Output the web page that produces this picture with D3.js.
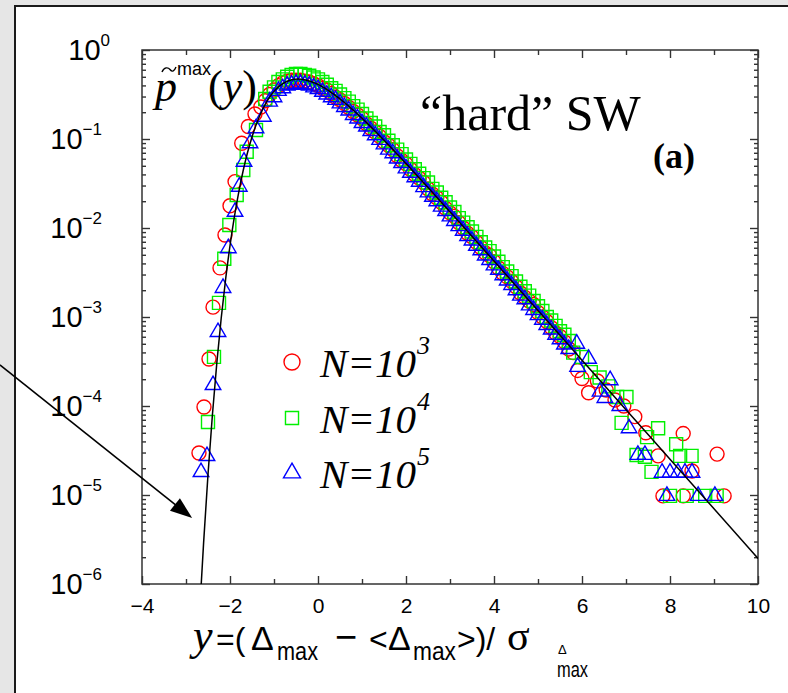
<!DOCTYPE html>
<html><head><meta charset="utf-8">
<script src="https://cdn.jsdelivr.net/npm/d3@7"></script>
<style>
body{margin:0;background:#e6e6e6;}
svg{display:block;}
</style>
</head><body>
<svg id="chart" width="788" height="693"></svg>
<script>
// ---------- data ----------
const xTickValues = [-4, -2, 0, 2, 4, 6, 8, 10];
const xMinorTicks = [-3, -1, 1, 3, 5, 7, 9];
const yExponents = [0, -1, -2, -3, -4, -5, -6];
const legendLabels = ["3", "4", "5"];   // N = 10^k

// theoretical curve (black line)
const curveX = [-2.66, -2.6, -2.5, -2.4, -2.3, -2.2, -2.1, -2.0, -1.9, -1.8, -1.7, -1.6, -1.5, -1.4, -1.3, -1.2, -1.1, -1.0, -0.9, -0.8, -0.6, -0.45, -0.3, 0, 0.3, 0.6, 1.0, 1.5, 2.0, 2.5, 3, 4, 5, 6, 7, 8, 9, 10];
const curveP = [8.85e-7, 2.90e-6, 1.70e-5, 7.93e-5, 3.03e-4, 9.67e-4, 2.65e-3, 6.32e-3, 1.34e-2, 2.55e-2, 4.43e-2, 7.09e-2, 0.1055, 0.1475, 0.1949, 0.2452, 0.2955, 0.3429, 0.3847, 0.4195, 0.4627, 0.4718, 0.4637, 0.4108, 0.3345, 0.2572, 0.1709, 0.0969, 0.0530, 0.0285, 0.01518, 4.245e-3, 1.180e-3, 3.275e-4, 9.09e-5, 2.52e-5, 6.99e-6, 1.94e-6];

// N = 10^3 (red circles)
const n3X = [-2.705, -2.591, -2.477, -2.386, -2.227, -2.114, -2.0, -1.886, -1.734, -1.584, -1.432,
  -1.3, -1.1, -0.9, -0.7, -0.5, -0.3, -0.1, 0.1, 0.3, 0.5, 0.7, 0.9, 1.1, 1.3, 1.5, 1.7, 1.9, 2.1, 2.3, 2.5, 2.7, 2.9,
  3.1, 3.3, 3.5, 3.7, 3.9, 4.1, 4.3, 4.5, 4.7, 4.9, 5.1, 5.3, 5.5, 5.7, 5.9, 6.0, 6.15, 6.35, 6.55, 6.75, 6.95,
  7.2, 7.45, 7.73, 8.3, 8.5, 9.07, 7.84, 8.3, 9.23,
  -1.2, -1.0, -0.8, -0.6, -0.4, -0.2, 0.0, 0.2, 0.4, 0.6, 0.8, 1.0, 1.2, 1.4, 1.6, 1.8, 2.0, 2.2, 2.4, 2.6, 2.8,
  3.0, 3.2, 3.4, 3.6, 3.8, 4.0, 4.2, 4.4, 4.6, 4.8, 5.0, 5.2, 5.4, 5.6, 5.8];
const n3P = [2.96e-5, 9.75e-5, 3.37e-4, 1.29e-3, 3.56e-3, 8.34e-3, 1.78e-2, 3.32e-2, 8.95e-2, 0.138, 0.191,
  0.229, 0.316, 0.398, 0.447, 0.457, 0.447, 0.417, 0.372, 0.324, 0.275, 0.226, 0.186, 0.148, 0.120, 0.0933, 0.0759, 0.0575, 0.0457, 0.0363, 0.0275, 0.0219, 0.0166,
  0.0135, 0.0100, 7.94e-3, 6.03e-3, 4.90e-3, 3.55e-3, 2.82e-3, 2.19e-3, 1.66e-3, 1.38e-3, 1.00e-3, 7.59e-4, 6.03e-4, 4.37e-4, 2.51e-4, 2.04e-4, 1.41e-4, 1.91e-4, 1.51e-4, 1.17e-4, 1.00e-4,
  7.59e-5, 5.01e-5, 2.75e-5, 4.90e-5, 1.86e-5, 2.88e-5, 9.77e-6, 9.77e-6, 9.77e-6,
  0.269, 0.355, 0.427, 0.457, 0.457, 0.437, 0.398, 0.355, 0.295, 0.251, 0.204, 0.170, 0.132, 0.107, 0.0851, 0.0646, 0.0525, 0.0398, 0.0324, 0.0240, 0.0195,
  0.0148, 0.0115, 8.71e-3, 6.92e-3, 5.25e-3, 4.17e-3, 3.09e-3, 2.51e-3, 1.86e-3, 1.51e-3, 1.12e-3, 8.91e-4, 6.61e-4, 5.25e-4, 3.98e-4];

// N = 10^4 (green squares)
const n4X = [-2.5, -2.364, -2.25, -2.13, -2.015, -1.848, -1.698, -1.621, -1.409,
  -1.2, -1.0, -0.8, -0.6, -0.4, -0.2, 0.0, 0.2, 0.4, 0.6, 0.8, 1.0, 1.2, 1.4, 1.6, 1.8, 2.0, 2.2, 2.4, 2.6, 2.8,
  3.0, 3.2, 3.4, 3.6, 3.8, 4.0, 4.2, 4.4, 4.6, 4.8, 5.0, 5.2, 5.4, 5.6, 5.8, 6.0, 6.2, 6.4, 6.6, 6.8,
  7.01, 6.9, 7.24, 7.43, 7.48, 7.58, 7.73, 8.14, 8.23, 8.49, 8.0, 8.38, 8.8, 9.06,
  -1.1, -0.9, -0.7, -0.5, -0.3, -0.1, 0.1, 0.3, 0.5, 0.7, 0.9, 1.1, 1.3, 1.5, 1.7, 1.9, 2.1, 2.3, 2.5, 2.7, 2.9,
  3.1, 3.3, 3.5, 3.7, 3.9, 4.1, 4.3, 4.5, 4.7, 4.9, 5.1, 5.3, 5.5, 5.7];
const n4P = [6.61e-5, 3.56e-4, 1.44e-3, 4.52e-3, 1.08e-2, 2.35e-2, 4.49e-2, 7.19e-2, 0.126,
  0.282, 0.380, 0.468, 0.525, 0.537, 0.513, 0.468, 0.407, 0.347, 0.288, 0.234, 0.191, 0.151, 0.120, 0.0955, 0.0759, 0.0589, 0.0457, 0.0363, 0.0275, 0.0219,
  0.0170, 0.0129, 0.0102, 7.94e-3, 6.03e-3, 4.79e-3, 3.63e-3, 2.88e-3, 2.19e-3, 1.74e-3, 1.32e-3, 1.00e-3, 7.94e-4, 6.31e-4, 3.98e-4, 3.55e-4, 2.40e-4, 2.09e-4, 1.66e-4, 1.26e-4,
  1.26e-4, 6.46e-5, 2.82e-5, 2.69e-5, 4.47e-5, 1.82e-5, 5.62e-5, 3.72e-5, 2.75e-5, 2.75e-5, 9.77e-6, 9.77e-6, 9.77e-6, 9.77e-6,
  0.339, 0.437, 0.501, 0.537, 0.525, 0.490, 0.437, 0.372, 0.316, 0.263, 0.214, 0.170, 0.138, 0.110, 0.0851, 0.0676, 0.0525, 0.0407, 0.0324, 0.0251, 0.0195,
  0.0151, 0.0115, 9.12e-3, 6.92e-3, 5.50e-3, 4.17e-3, 3.24e-3, 2.51e-3, 1.95e-3, 1.51e-3, 1.17e-3, 9.12e-4, 6.92e-4, 5.37e-4];

// N = 10^5 (blue triangles)
const n5X = [-2.659, -2.523, -2.386, -2.273, -2.159, -2.038, -1.886, -1.789, -1.682, -1.545, -1.409, -1.243,
  -1.1, -0.9, -0.7, -0.5, -0.3, -0.1, 0.1, 0.3, 0.5, 0.7, 0.9, 1.1, 1.3, 1.5, 1.7, 1.9, 2.1, 2.3, 2.5, 2.7, 2.9,
  3.1, 3.3, 3.5, 3.7, 3.9, 4.1, 4.3, 4.5, 4.7, 4.9, 5.1, 5.3, 5.5, 5.7, 5.88, 5.9, 6.15, 6.41, 6.52, 6.64, 6.86, 7.07,
  7.27, 7.43, 7.82, 8.0, 8.18, 8.34, 8.5, 7.93, 8.64, 9.02,
  -1.0, -0.8, -0.6, -0.4, -0.2, 0.0, 0.2, 0.4, 0.6, 0.8, 1.0, 1.2, 1.4, 1.6, 1.8, 2.0, 2.2, 2.4, 2.6, 2.8,
  3.0, 3.2, 3.4, 3.6, 3.8, 4.0, 4.2, 4.4, 4.6, 4.8, 5.0, 5.2, 5.4, 5.6];
const n5P = [1.81e-5, 2.74e-5, 1.72e-4, 6.78e-4, 2.12e-3, 5.92e-3, 1.52e-2, 2.91e-2, 5.56e-2, 8.95e-2, 0.132, 0.178,
  0.263, 0.347, 0.398, 0.417, 0.407, 0.380, 0.339, 0.295, 0.251, 0.209, 0.170, 0.138, 0.110, 0.0871, 0.0692, 0.0537, 0.0417, 0.0331, 0.0251, 0.0200, 0.0155,
  0.0120, 9.33e-3, 7.24e-3, 5.62e-3, 4.37e-3, 3.39e-3, 2.57e-3, 2.00e-3, 1.58e-3, 1.20e-3, 9.33e-4, 7.24e-4, 5.62e-4, 4.37e-4, 5.01e-4, 2.75e-4, 3.39e-4, 1.45e-4, 1.23e-4, 1.95e-4, 1.00e-4, 5.62e-5,
  2.82e-5, 2.82e-5, 1.78e-5, 1.78e-5, 1.78e-5, 1.78e-5, 1.78e-5, 9.77e-6, 9.77e-6, 9.77e-6,
  0.295, 0.372, 0.407, 0.417, 0.398, 0.363, 0.316, 0.275, 0.229, 0.186, 0.151, 0.123, 0.0977, 0.0759, 0.0603, 0.0468, 0.0372, 0.0288, 0.0224, 0.0174,
  0.0135, 0.0105, 8.13e-3, 6.31e-3, 4.90e-3, 3.80e-3, 2.95e-3, 2.29e-3, 1.74e-3, 1.35e-3, 1.05e-3, 8.13e-4, 6.31e-4, 4.90e-4];

// annotation arrow (data coordinates: from outside the frame to the curve's foot)
const arrowFrom = [-7.23, 2.9e-4];
const arrowTo = [-2.86, 5.5e-6];

// ---------- drawing ----------
const svg = d3.select("#chart");
const W = 788, H = 693;
const M = {left: 142, top: 50, right: 758, bottom: 584};
const sans = "'Liberation Sans', Arial, Helvetica, sans-serif";
const serif = "'Liberation Serif', 'Times New Roman', Times, serif";

// outer frame
svg.append("rect").attr("x", 0).attr("y", 0).attr("width", W).attr("height", H).attr("fill", "#e6e6e6");
svg.append("rect").attr("x", 15).attr("y", 6).attr("width", W).attr("height", H)
  .attr("fill", "#ffffff").attr("stroke", "#1a1a1a").attr("stroke-width", 2);

const x = d3.scaleLinear().domain([-4, 10]).range([M.left, M.right]);
const y = d3.scaleLog().domain([1e-6, 1]).range([M.bottom, M.top]);

const axisColor = "#333";
function styleAxis(g) {
  g.select(".domain").remove();
  g.selectAll(".tick line").attr("stroke", axisColor).attr("stroke-width", 1.4);
}

// x axes (bottom with labels, top ticks only)
svg.append("g").attr("transform", `translate(0,${M.bottom})`)
  .call(d3.axisBottom(x).tickValues(xTickValues).tickSize(-8).tickPadding(14).tickFormat(d3.format("d")))
  .call(styleAxis)
  .call(g => g.selectAll(".tick text").attr("font-family", sans).attr("font-size", 21).attr("fill", "#000"));
svg.append("g").attr("transform", `translate(0,${M.bottom})`)
  .call(d3.axisBottom(x).tickValues(xMinorTicks).tickSize(-5).tickFormat(""))
  .call(styleAxis);
svg.append("g").attr("transform", `translate(0,${M.top})`)
  .call(d3.axisTop(x).tickValues(xTickValues).tickSize(-8).tickFormat(""))
  .call(styleAxis);
svg.append("g").attr("transform", `translate(0,${M.top})`)
  .call(d3.axisTop(x).tickValues(xMinorTicks).tickSize(-5).tickFormat(""))
  .call(styleAxis);

// y axes: decades and minor ticks
const decades = yExponents.map(e => Math.pow(10, e));
const minor = [];
yExponents.slice(0, -1).forEach(e => { for (let m = 2; m <= 9; m++) minor.push(m * Math.pow(10, e - 1)); });
[[d3.axisLeft, M.left], [d3.axisRight, M.right]].forEach(([ax, pos]) => {
  svg.append("g").attr("transform", `translate(${pos},0)`)
    .call(ax(y).tickValues(decades).tickSize(-8).tickFormat("")).call(styleAxis);
  svg.append("g").attr("transform", `translate(${pos},0)`)
    .call(ax(y).tickValues(minor).tickSize(-4).tickFormat("")).call(styleAxis);
});

// y tick labels 10^k
yExponents.forEach(e => {
  const t = svg.append("text")
    .attr("x", e === 0 ? 110 : 102)
    .attr("y", y(Math.pow(10, e)) + 10)
    .attr("text-anchor", "end").attr("font-family", sans).attr("fill", "#000");
  t.append("tspan").attr("font-size", 29).text("10");
  t.append("tspan").attr("font-size", 17).attr("dy", -14).text(e === 0 ? "0" : "\u2212" + (-e));
});

// plot frame
svg.append("rect").attr("x", M.left).attr("y", M.top)
  .attr("width", M.right - M.left).attr("height", M.bottom - M.top)
  .attr("fill", "none").attr("stroke", axisColor).attr("stroke-width", 1.5);

// clip
svg.append("clipPath").attr("id", "plotclip").append("rect")
  .attr("x", M.left).attr("y", M.top).attr("width", M.right - M.left).attr("height", M.bottom - M.top);
const plot = svg.append("g").attr("clip-path", "url(#plotclip)");

const sw = 1.4;
const red = "#ff0000", green = "#00f000", blue = "#0000ff";
const triSym = d3.symbol().type(d3.symbolTriangle);
const sqSym = d3.symbol().type(d3.symbolSquare);

// red circles
plot.append("g").selectAll("circle").data(d3.zip(n3X, n3P)).join("circle")
  .attr("cx", d => x(d[0])).attr("cy", d => y(d[1])).attr("r", 7)
  .attr("fill", "none").attr("stroke", red).attr("stroke-width", sw);
// green squares
plot.append("g").selectAll("path").data(d3.zip(n4X, n4P)).join("path")
  .attr("d", sqSym.size(169)()).attr("transform", d => `translate(${x(d[0])},${y(d[1])})`)
  .attr("fill", "none").attr("stroke", green).attr("stroke-width", sw);
// blue triangles
plot.append("g").selectAll("path").data(d3.zip(n5X, n5P)).join("path")
  .attr("d", triSym.size(105)()).attr("transform", d => `translate(${x(d[0])},${y(d[1])})`)
  .attr("fill", "none").attr("stroke", blue).attr("stroke-width", sw);

// black curve
plot.append("path").datum(d3.zip(curveX, curveP))
  .attr("d", d3.line().x(d => x(d[0])).y(d => y(d[1])).curve(d3.curveMonotoneX))
  .attr("fill", "none").attr("stroke", "#000").attr("stroke-width", 1.5);

// annotation arrow
{
  const x0 = x(arrowFrom[0]), y0 = y(arrowFrom[1]);
  const x1 = x(arrowTo[0]), y1 = y(arrowTo[1]);
  const L = Math.hypot(x1 - x0, y1 - y0), ux = (x1 - x0) / L, uy = (y1 - y0) / L;
  const hl = 22, hw = 8;
  const bx = x1 - ux * hl, by = y1 - uy * hl;
  svg.append("line").attr("x1", x0).attr("y1", y0).attr("x2", bx + ux * 2).attr("y2", by + uy * 2)
    .attr("stroke", "#000").attr("stroke-width", 1.6);
  svg.append("polygon")
    .attr("points", [[x1, y1], [bx - uy * hw, by + ux * hw], [bx + uy * hw, by - ux * hw]].map(p => p.join(",")).join(" "))
    .attr("fill", "#000");
}

// legend
const legendRows = [362, 418, 473];
const lg = svg.append("g");
lg.append("circle").attr("cx", 292).attr("cy", legendRows[0]).attr("r", 8)
  .attr("fill", "none").attr("stroke", red).attr("stroke-width", sw);
lg.append("path").attr("d", sqSym.size(170)()).attr("transform", `translate(292,${legendRows[1]})`)
  .attr("fill", "none").attr("stroke", green).attr("stroke-width", sw);
lg.append("path").attr("d", triSym.size(125)()).attr("transform", `translate(292,${legendRows[2]})`)
  .attr("fill", "none").attr("stroke", blue).attr("stroke-width", sw);
legendLabels.forEach((k, i) => {
  const t = lg.append("text").attr("x", 320).attr("y", legendRows[i] + 15)
    .attr("font-family", serif).attr("font-style", "italic").attr("fill", "#000");
  t.append("tspan").attr("font-size", 41).text("N=10");
  t.append("tspan").attr("font-size", 26).attr("dy", -23).attr("dx", 1).text(k);
});

// title texts
svg.append("text").attr("x", 420).attr("y", 130).attr("font-family", serif).attr("font-size", 50)
  .attr("fill", "#000").text("\u201Chard\u201D SW");
svg.append("text").attr("x", 653).attr("y", 168).attr("font-family", serif).attr("font-weight", "bold")
  .attr("font-size", 36).attr("fill", "#000").text("(a)");

// y title  p~max(y)
svg.append("text").attr("x", 155).attr("y", 101).attr("font-family", serif).attr("font-style", "italic")
  .attr("font-size", 44).attr("fill", "#000").text("p");
// tilde accent drawn as a small stroke
svg.append("path").attr("d", "M162,72 C164,67 168,67 170,69.5 S174,72 176,67")
  .attr("fill", "none").attr("stroke", "#000").attr("stroke-width", 1.4);
svg.append("text").attr("x", 177).attr("y", 75).attr("font-family", sans).attr("font-size", 18)
  .attr("fill", "#000").text("max");
{
  const t = svg.append("text").attr("x", 208).attr("y", 101).attr("font-family", serif)
    .attr("font-size", 44).attr("fill", "#000");
  t.append("tspan").text("(");
  t.append("tspan").attr("font-style", "italic").text("y");
  t.append("tspan").text(")");
}

// x title  y=(Δmax − <Δmax>)/σΔmax
const xt = svg.append("g").attr("fill", "#000");
const piece = (txt, px, py, fs, fam, style, len) => {
  const t = xt.append("text").attr("x", px).attr("y", py)
    .attr("font-size", fs).attr("font-family", fam).attr("font-style", style || "normal").text(txt);
  if (len) t.attr("textLength", len).attr("lengthAdjust", "spacingAndGlyphs");
  return t;
};
piece("y", 193, 650, 44, serif, "italic");
piece("=(", 216, 650, 32, sans);
piece("\u0394", 251, 650, 34, sans);
piece("max", 277, 660, 25, sans, null, 41);
piece("\u2212", 335, 650, 38, sans);
piece("<", 369, 650, 32, sans);
piece("\u0394", 388, 650, 34, sans);
piece("max", 413, 660, 25, sans, null, 43);
piece(">)/", 457, 650, 32, sans);
piece("\u03C3", 507, 650, 42, serif);
piece("\u0394", 558, 654, 13, sans);
piece("max", 557, 677, 22, sans, null, 31);
</script>
</body></html>
